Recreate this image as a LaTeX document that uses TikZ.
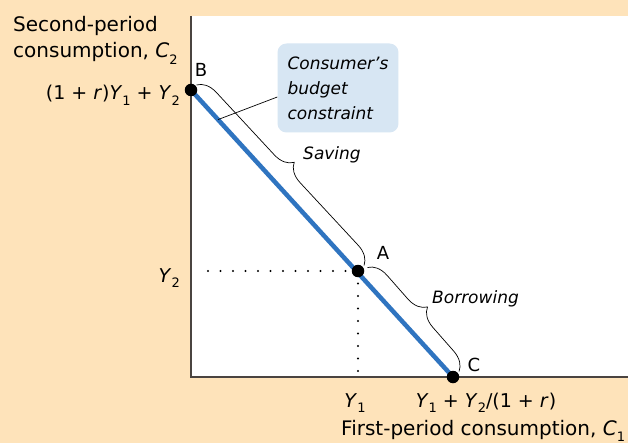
\documentclass[tikz,border=0pt]{standalone}
\usepackage{fontspec}
\setmainfont{DejaVu Sans}
\usetikzlibrary{calc,decorations.pathreplacing,positioning}
\definecolor{peach}{HTML}{FEE3BA}
\definecolor{budgetblue}{HTML}{2F74C0}
\definecolor{boxblue}{HTML}{D7E6F3}
\definecolor{axisgray}{HTML}{4A4440}
\newcommand{\lo}[1]{\raisebox{-0.55ex}{\fontsize{13}{13}\selectfont #1}}
\newcommand{\mv}[1]{\textit{#1}}

\begin{document}
\begin{tikzpicture}[x=1pt,y=-1pt,
  ttl/.style={inner sep=0pt,align=left,font=\fontsize{20}{26}\selectfont},
  lbl/.style={inner sep=0pt,font=\fontsize{19}{22}\selectfont},
  ptlbl/.style={inner sep=0pt,font=\fontsize{18}{20}\selectfont},
  brc/.style={decorate,decoration={brace,amplitude=19pt},line width=0.7pt},
  dotline/.style={line width=2.3pt,line cap=round,dash pattern=on 0pt off 12.5pt},
  dot/.style={circle,fill=black,inner sep=0pt,minimum size=12.5pt}]
\fill[peach] (0,0) rectangle (628,443);
\fill[white] (191,16) rectangle (628,377);
\useasboundingbox (0,0) rectangle (628,443);
% points on the budget line
\coordinate (O) at (191,377);
\coordinate (B) at (191,90);
\coordinate (A) at (358,271);
\coordinate (C) at (453,377);
% dotted guides
\draw[dotline] (A) -- (207,271);
\draw[dotline] (A) -- (358,372);
% axes
\draw[axisgray,line width=1.3pt] (191,16) -- (O) -- (628,377);
% budget line
\draw[budgetblue,line width=4.5pt] (B) -- (C);
\node[dot] (Bdot) at (B) {};
\node[dot] (Adot) at (A) {};
\node[dot] (Cdot) at (C) {};
% braces
\draw[brc] ($(B)+(5.5,-5)$) -- ($(A)+(6,-5.5)$);
\draw[brc] ($(A)+(9.5,-3.5)$) -- ($(C)+(6,-5.5)$);
\node[lbl,anchor=west,font=\fontsize{17}{20}\selectfont\itshape] (saving) at (303,155) {Saving};
\node[lbl,anchor=west,font=\fontsize{17}{20}\selectfont\itshape] (borrowing) at (432,299) {Borrowing};
% callout
\node[fill=boxblue,rounded corners=9pt,align=left,inner xsep=10pt,inner ysep=6pt,
  minimum width=120pt,minimum height=89pt,font=\fontsize{17}{25}\selectfont\itshape]
  (budget) at (338,88) {Consumer's\\budget\\constraint};
\coordinate (lead) at (218,119.6);
\draw[line width=0.7pt] ($(budget.west)+(0,9)$) -- (lead);
% point labels
\node[ptlbl] (labB) at (201,70) {B};
\node[ptlbl] (labA) at (383,253) {A};
\node[ptlbl] (labC) at (474,365) {C};
% axis values
\node[lbl,anchor=base east] (c2max) at (180,100) {(1 + \mv{r})\mv{Y}\lo{1} + \mv{Y}\lo{2}};
\node[lbl,anchor=base east] (y2) at (180,282) {\mv{Y}\lo{2}};
\node[lbl,anchor=base] (y1) at (355,407) {\mv{Y}\lo{1}};
\node[lbl,anchor=base] (c1max) at (486,407) {\mv{Y}\lo{1} + \mv{Y}\lo{2}/(1 + \mv{r})};
% axis titles
\node[ttl,anchor=base west] (c2title) at (13,58) {Second-period\\consumption, \mv{C}\lo{2}};
\node[ttl,anchor=base west] (c1title) at (341,435) {First-period consumption, \mv{C}\lo{1}};
\end{tikzpicture}
\end{document}
